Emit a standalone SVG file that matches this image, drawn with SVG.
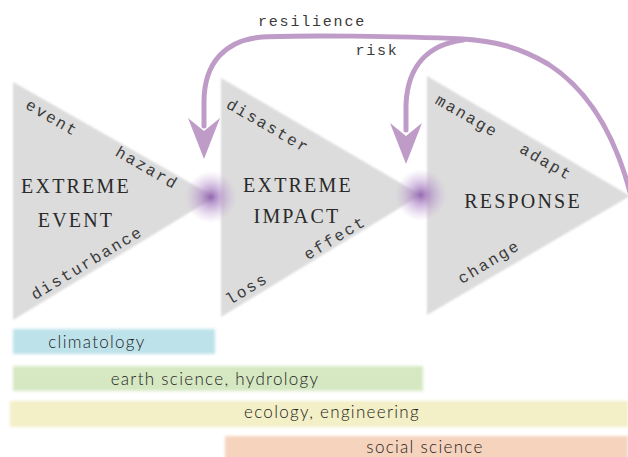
<svg xmlns="http://www.w3.org/2000/svg" width="628" height="457" viewBox="0 0 628 457">
<defs>
<radialGradient id="glow">
<stop offset="0" stop-color="#8a5aaa" stop-opacity="0.9"/>
<stop offset="0.4" stop-color="#a67cc0" stop-opacity="0.55"/>
<stop offset="1" stop-color="#c8a8d8" stop-opacity="0"/>
</radialGradient>
<filter id="soft" x="-5%" y="-30%" width="110%" height="160%"><feGaussianBlur stdDeviation="1.5"/></filter>
<filter id="tri" x="-5%" y="-5%" width="110%" height="110%"><feGaussianBlur stdDeviation="0.8"/></filter>
</defs>
<style>
.tri{fill:#dcdcdc;}
.big{font-family:"Liberation Serif",serif;font-size:20px;letter-spacing:2.2px;fill:#2a2a2a;text-anchor:middle;}
.sm{font-family:"Liberation Mono",monospace;font-size:16px;letter-spacing:2px;fill:#3a3a3a;text-anchor:middle;}
.arc{fill:none;stroke:#bf9bc8;stroke-width:5;stroke-linecap:round;}
.head{fill:#bf9bc8;}
.bar{font-family:"Lato","Open Sans",sans-serif;font-weight:300;font-size:17px;letter-spacing:1.3px;fill:#222;text-anchor:middle;}
</style>

<g id="bars">
<g id="bar-climatology"><rect x="13" y="329" width="202" height="25" fill="#bde2ea" filter="url(#soft)"/><text class="bar" x="97" y="348">climatology</text></g>
<g id="bar-earth"><rect x="13" y="366" width="410" height="25" fill="#d6e8c2" filter="url(#soft)"/><text class="bar" x="215" y="385">earth science, hydrology</text></g>
<g id="bar-ecology"><rect x="10" y="401" width="618" height="26" fill="#f3efc6" filter="url(#soft)"/><text class="bar" x="332" y="418">ecology, engineering</text></g>
<g id="bar-social"><rect x="225" y="436" width="403" height="24" fill="#f6d3bd" filter="url(#soft)"/><text class="bar" x="425" y="453">social science</text></g>
</g>

<g id="node-event">
<polygon class="tri" points="13,82 215,197 13,320" filter="url(#tri)"/>
<text class="big" x="76" y="193">EXTREME</text>
<text class="big" x="76" y="227">EVENT</text>
<text class="sm" transform="translate(52,118) rotate(30)" y="5">event</text>
<text class="sm" transform="translate(147,168) rotate(30)" y="5">hazard</text>
<text class="sm" transform="translate(87,263) rotate(-31)" y="5">disturbance</text>
</g>

<g id="node-impact">
<polygon class="tri" points="221,78 421,195 221,317" filter="url(#tri)"/>
<text class="big" x="298" y="192">EXTREME</text>
<text class="big" x="297" y="223">IMPACT</text>
<text class="sm" transform="translate(268,126) rotate(30)" y="5">disaster</text>
<text class="sm" transform="translate(335,238) rotate(-31)" y="5">effect</text>
<text class="sm" transform="translate(247,289) rotate(-31)" y="5">loss</text>
</g>

<g id="node-response">
<polygon class="tri" points="427,76 630,196 427,315" filter="url(#tri)"/>
<text class="big" x="523" y="208">RESPONSE</text>
<text class="sm" transform="translate(467,116) rotate(30)" y="5">manage</text>
<text class="sm" transform="translate(546,162) rotate(30)" y="5">adapt</text>
<text class="sm" transform="translate(489,262) rotate(-31)" y="5">change</text>
</g>

<g id="glows">
<circle cx="211" cy="197" r="26" fill="url(#glow)"/>
<circle cx="421" cy="195" r="26" fill="url(#glow)"/>
</g>

<g id="connectors">
<path class="arc" d="M 630,192 C 616,140 592,92 548,64 C 518,46 492,41 463,39 C 400,36 300,35 262,37 C 226,40 204,62 204,102 L 204,126"/>
<polygon class="head" points="188,118 204,131 220,118 204,159"/>
<path class="arc" d="M 463,40 C 432,44 408,62 406,104 L 406,130"/>
<polygon class="head" points="390,123 406,136 422,123 406,164"/>
<text class="sm" x="312" y="26" style="font-size:15px;letter-spacing:1.8px">resilience</text>
<text class="sm" x="377" y="55" style="font-size:15px;letter-spacing:1.8px">risk</text>
</g>
</svg>
